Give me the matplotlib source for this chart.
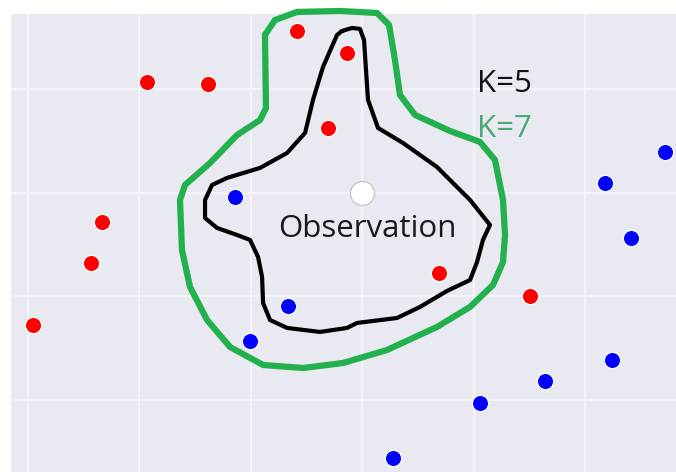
import matplotlib
matplotlib.use("Agg")
import matplotlib.pyplot as plt

# point data (grid units, grid lines at integer values)
red_x = [2.415, 2.864, 1.068, 1.616, 2.693, 0.664, 0.566, 0.045, 3.689, 4.506]
red_y = [3.565, 3.353, 3.072, 3.053, 2.628, 1.720, 1.324, 0.725, 1.227, 1.005]

blue_x = [1.858, 2.334, 1.993, 5.180, 5.718, 5.413, 5.242, 4.641, 4.057, 3.276]
blue_y = [1.961, 0.908, 0.570, 2.097, 2.396, 1.565, 0.386, 0.184, -0.029, -0.560]

obs_x = [3.0]
obs_y = [2.0]

# hand-drawn neighbourhood outlines
k5_x = [2.819, 2.908, 2.980, 3.016, 3.034, 3.052, 3.142, 3.366, 3.671, 3.968,
        4.147, 4.084, 4.031, 3.968, 3.761, 3.519, 3.312, 2.953, 2.864, 2.621,
        2.325, 2.172, 2.110, 2.101, 2.065, 1.993, 1.876, 1.697, 1.589, 1.589,
        1.652, 1.786, 2.083, 2.325, 2.487, 2.558, 2.648, 2.774, 2.819]
k5_y = [3.565, 3.594, 3.585, 3.478, 3.188, 2.899, 2.628, 2.483, 2.251, 1.932,
        1.691, 1.546, 1.333, 1.159, 1.053, 0.899, 0.792, 0.744, 0.696, 0.657,
        0.696, 0.773, 0.937, 1.188, 1.382, 1.546, 1.594, 1.662, 1.758, 1.932,
        2.077, 2.145, 2.242, 2.386, 2.580, 2.899, 3.217, 3.527, 3.565]

k7_x = [2.127, 2.217, 2.415, 2.801, 3.133, 3.241, 3.294, 3.339, 3.474, 3.788,
        4.057, 4.192, 4.264, 4.282, 4.264, 4.174, 3.968, 3.671, 3.223, 2.828,
        2.469, 2.110, 1.813, 1.607, 1.454, 1.382, 1.364, 1.409, 1.634, 1.876,
        2.083, 2.136, 2.127]
k7_y = [3.527, 3.671, 3.749, 3.758, 3.739, 3.623, 3.285, 2.947, 2.754, 2.599,
        2.493, 2.319, 1.932, 1.594, 1.333, 1.111, 0.899, 0.705, 0.483, 0.357,
        0.309, 0.338, 0.512, 0.773, 1.092, 1.449, 1.932, 2.077, 2.290, 2.560,
        2.705, 2.821, 3.527]

labels = ["Observation", "K=5", "K=7"]

fig = plt.figure(figsize=(6.76, 4.72), dpi=100)
ax = fig.add_axes([11 / 676, 0, 1 - 11 / 676, 458 / 472])
ax.set_facecolor("#E9E9F2")
for s in ax.spines.values():
    s.set_visible(False)

ax.set_xticks(range(0, 6))
ax.set_yticks(range(0, 4))
ax.tick_params(length=0, labelbottom=False, labelleft=False)
ax.grid(True, color="#F7F7FB", lw=1.2)
ax.set_axisbelow(True)
ax.set_xlim(-0.153, 5.817)
ax.set_ylim(-0.696, 3.729)

ax.scatter(red_x, red_y, s=135, color="#FF0000", edgecolor="white", lw=0.8, zorder=3)
ax.scatter(blue_x, blue_y, s=135, color="#0000FF", edgecolor="white", lw=0.8, zorder=3)
ax.scatter(obs_x, obs_y, s=300, color="white", edgecolor="#c8c8c8", lw=1.0, zorder=3)

ax.plot(k7_x, k7_y, color="#22B14C", lw=4.5, solid_joinstyle="round",
        solid_capstyle="round", clip_on=False, zorder=4)
ax.plot(k5_x, k5_y, color="black", lw=3.0, solid_joinstyle="round",
        solid_capstyle="round", clip_on=False, zorder=4)

font = ["Open Sans", "DejaVu Sans"]
ax.text(3.043, 1.575, labels[0], ha="center", va="baseline", fontsize=22.5,
        family=font, color="#1a1a1a", zorder=5)
ax.text(4.03, 2.976, labels[1], ha="left", va="baseline", fontsize=22.5,
        family=font, color="#111111", zorder=5)
ax.text(4.03, 2.541, labels[2], ha="left", va="baseline", fontsize=22.5,
        family=font, color="#4BAA72", zorder=5)

fig.savefig("out.png", dpi=100, facecolor="white")
